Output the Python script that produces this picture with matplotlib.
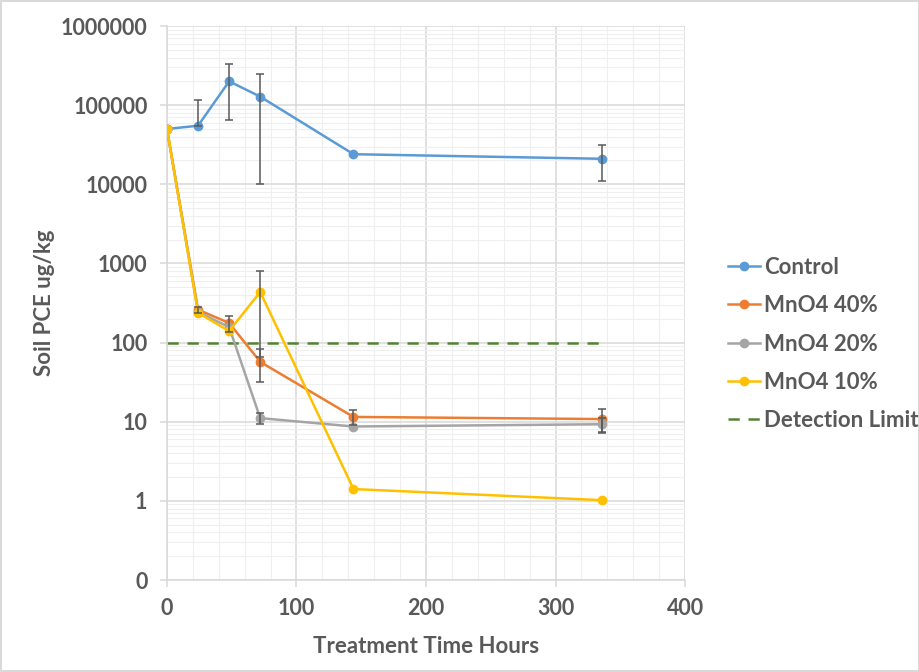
import matplotlib

matplotlib.use("Agg")
import matplotlib.pyplot as plt  # noqa: E402
import numpy as np  # noqa: E402
from matplotlib.ticker import FixedLocator, LogLocator, NullFormatter  # noqa: E402

hours = [0, 24, 48, 72, 144, 336]

control = [50000, 55000, 200000, 128000, 24000, 21000]
control_err = [0, 60000, 135000, 118000, 0, 10000]

mno4_40 = [50000, 260, 177, 57, 11.5, 10.8]
mno4_40_err = [0, 25, 40, 25, 2.5, 3.6]

mno4_20 = [50000, 243, 157, 11.1, 8.7, 9.3]
mno4_20_err = [0, 0, 0, 1.7, 0, 1.8]

mno4_10 = [50000, 237, 140, 436, 1.41, 1.02]
mno4_10_err = [0, 0, 0, 370, 0, 0]

detection_limit = 100
detection_hours = [0, 336]

y_ticks = [0.1, 1, 10, 100, 1000, 10000, 100000, 1000000]
y_tick_labels = ["0", "1", "10", "100", "1000", "10000", "100000", "1000000"]

TEXT = "#595959"
plt.rcParams["font.family"] = ["Lato", "DejaVu Sans"]
plt.rcParams["font.weight"] = "bold"

fig = plt.figure(figsize=(9.2, 6.72), dpi=100)
fig.patch.set_edgecolor("#D9D9D9")
fig.patch.set_linewidth(1.5)
ax = fig.add_axes([0.1815, 0.1369, 0.5631, 0.8244])

series = [
    ("Control", control, control_err, "#5B9BD5"),
    ("MnO4 40%", mno4_40, mno4_40_err, "#ED7D31"),
    ("MnO4 20%", mno4_20, mno4_20_err, "#A5A5A5"),
    ("MnO4 10%", mno4_10, mno4_10_err, "#FFC000"),
]

for i, (name, vals, err, color) in enumerate(series):
    vals = np.asarray(vals, dtype=float)
    err = np.asarray(err, dtype=float)
    # Excel hides the lower whisker when it would go below zero on a log axis
    lower = np.where(vals - err > 0, err, 0)
    ax.plot(hours, vals, color=color, lw=1.8, marker="o", ms=6, label=name, zorder=3 + i)
    mask = err > 0
    ax.errorbar(np.asarray(hours)[mask], vals[mask], yerr=[lower[mask], err[mask]],
                fmt="none", ecolor="#595959", elinewidth=1.1, capsize=3, capthick=1.1, zorder=8)

ax.plot(detection_hours, [detection_limit] * 2, color="#548235", lw=1.8,
        ls=(0, (4.5, 3.5)), label="Detection Limit", zorder=2)

ax.set_yscale("log")
ax.set_ylim(0.1, 1000000)
ax.set_xlim(0, 400)
ax.yaxis.set_major_locator(FixedLocator(y_ticks))
ax.set_yticklabels(y_tick_labels)
ax.yaxis.set_minor_locator(LogLocator(base=10, subs=np.arange(2, 10), numticks=20))
ax.yaxis.set_minor_formatter(NullFormatter())
ax.set_xticks([0, 100, 200, 300, 400])
ax.set_xticks(np.arange(0, 401, 20), minor=True)

ax.grid(which="major", color="#D9D9D9", lw=1.1, zorder=0)
ax.grid(which="minor", color="#EFEFEF", lw=0.8, zorder=0)
ax.set_axisbelow(True)

for side in ("top", "right"):
    ax.spines[side].set_visible(False)
for side in ("left", "bottom"):
    ax.spines[side].set_color("#D9D9D9")
    ax.spines[side].set_linewidth(1.1)

ax.tick_params(which="major", length=5, width=1.1, color="#D9D9D9",
               labelcolor=TEXT, labelsize=15.5)
ax.tick_params(axis="y", which="major", pad=9)
ax.tick_params(axis="x", which="major", pad=8)
ax.tick_params(which="minor", length=0)

ax.set_xlabel("Treatment Time Hours", color=TEXT, fontsize=16, fontweight="bold", labelpad=12)
ax.set_ylabel("Soil PCE ug/kg", color=TEXT, fontsize=16, fontweight="bold", labelpad=4)

leg = ax.legend(loc="center left", bbox_to_anchor=(1.066, 0.426), frameon=False,
                fontsize=16, labelspacing=0.78, handlelength=1.45, handletextpad=0.15,
                borderaxespad=0)
for t in leg.get_texts():
    t.set_color(TEXT)

fig.savefig("out.png", dpi=100)
plt.close(fig)
